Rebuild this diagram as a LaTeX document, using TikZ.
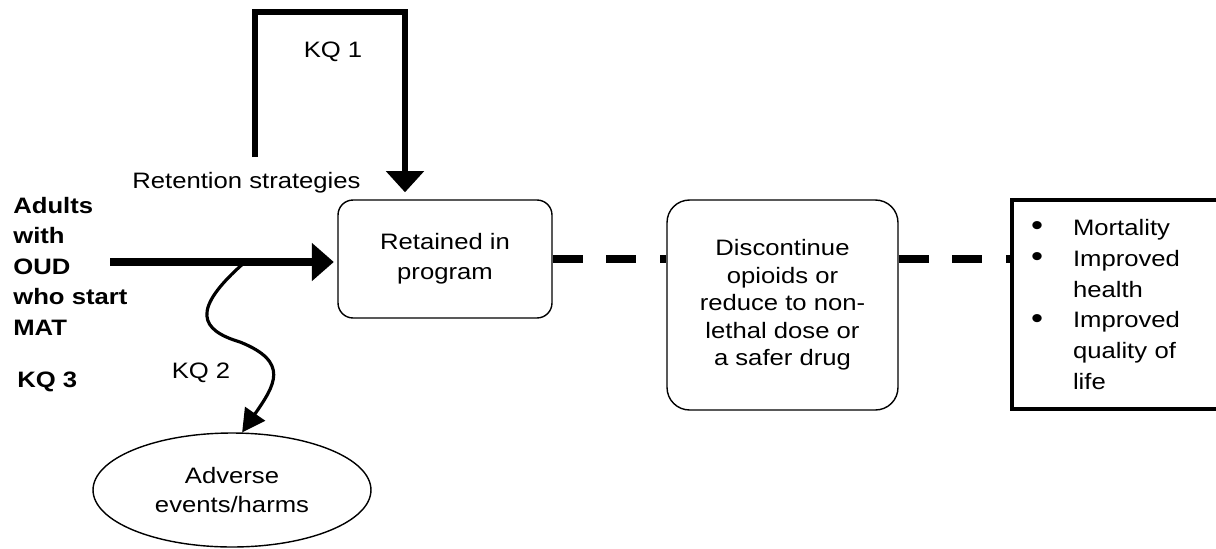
\documentclass[tikz,border=0pt]{standalone}
\usepackage{fontspec}
\setmainfont[FakeStretch=1.15]{Liberation Sans}
\usepackage{tikz}
\usetikzlibrary{shapes,arrows.meta,positioning,calc}
\newcommand{\outbullet}{\makebox[0.84cm][l]{\fontsize{17}{17.6}\selectfont\raisebox{-0.3pt}{\textbullet}}}
\newcommand{\outindent}{\makebox[0.84cm]{}}

\begin{document}
\begin{tikzpicture}[x=0.02cm,y=-0.02cm,
  font=\fontsize{12.7}{17}\selectfont,
  lbl/.style={inner sep=0pt},
  stagebox/.style={draw,line width=0.8pt,rounded corners=#1,align=center,inner sep=0pt},
  mainarrow/.style={line width=4pt,-{Triangle[length=12.5pt,width=21pt]}},
  kqarrow/.style={line width=3.4pt,-{Triangle[length=12pt,width=21pt]}},
  harmarrow/.style={line width=1.8pt,-{Triangle[length=13pt,width=13.6pt]}},
  outcomeline/.style={line width=4.2pt,dash pattern=on 17pt off 13.6pt}]
\useasboundingbox (0,0) rectangle (1216,548);
\node[lbl,font=\fontsize{12.7}{17.3}\selectfont\bfseries,align=left,anchor=north west] (adults) at (13,197) {Adults\\with\\OUD\\who start\\MAT};
\node[lbl,font=\fontsize{12.7}{17}\selectfont\bfseries,anchor=west] (kq3) at (17,382) {KQ 3};
\node[stagebox=0.3cm,minimum width=4.28cm,minimum height=2.36cm] (retained) at (445,259) {Retained in\\program};
\node[stagebox=0.45cm,minimum width=4.62cm,minimum height=4.2cm,font=\fontsize{12.7}{15.7}\selectfont] (disc) at (782.5,305) {Discontinue\\opioids or\\reduce to non-\\lethal dose or\\a safer drug};
\node[draw,line width=2.5pt,minimum width=4.2cm,minimum height=4.18cm,inner xsep=0.38cm,inner ysep=0pt,text width=3.44cm,align=left,font=\fontsize{12.7}{17.6}\selectfont] (outcomes) at (1117,304.5) {\outbullet Mortality\\\outbullet Improved\\\outindent health\\\outbullet Improved\\\outindent quality of\\\outindent life};
\node[ellipse,draw,line width=0.8pt,minimum width=5.56cm,minimum height=2.28cm,inner sep=0pt,align=center] (adv) at (232,490) {Adverse\\events/harms};
\node[lbl] (kq1) at (333,52) {KQ 1};
\node[lbl,anchor=west] (strategies) at (132,183) {Retention strategies};
\node[lbl] (kq2) at (201,373) {KQ 2};
\coordinate (src) at (110,262);
\coordinate (loopstart) at (255,157);
\coordinate (looptop) at (405,12);
\coordinate (sideeffect) at (245,262);
\draw[mainarrow,shorten >=2pt] (src) -- (src -| retained.west);
\draw[kqarrow,shorten >=4pt] (loopstart) |- (looptop) -- (looptop |- retained.north);
\draw[outcomeline] (retained.east) -- (retained.east -| disc.west);
\draw[outcomeline] (disc.east |- retained.east) -- (outcomes.west |- retained.east);
\draw[harmarrow] (sideeffect) .. controls (190,310) and (200,330) .. (240,342) .. controls (290,362) and (275,385) .. (adv.80);
\end{tikzpicture}
\end{document}
